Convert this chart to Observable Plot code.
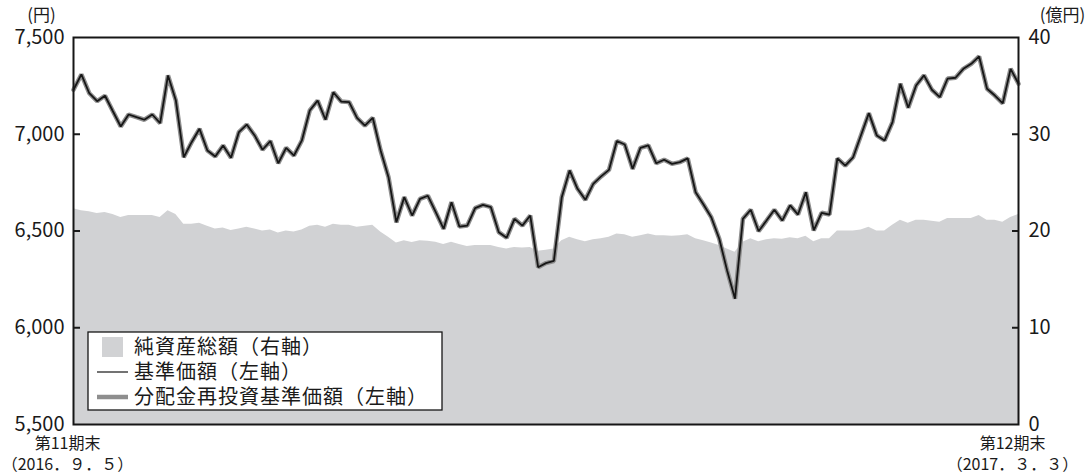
<!DOCTYPE html>
<html><head><meta charset="utf-8">
<script src="https://cdn.jsdelivr.net/npm/d3@7"></script>
<script src="https://cdn.jsdelivr.net/npm/@observablehq/plot@0.6"></script>
<style>
body{margin:0;background:#fff;}
#chart svg{font-family:"Noto Sans CJK JP",sans-serif;}
</style>
</head><body><div id="chart"></div>
<script>
// 基準価額（円）— 分配金再投資基準価額も同じ値（期中分配なし）
const nav = [
  7230, 7309, 7212, 7171, 7199, 7119, 7040, 7102, 7088, 7075,
  7102, 7057, 7304, 7174, 6881, 6959, 7028, 6916, 6885, 6942,
  6878, 7011, 7050, 6994, 6920, 6965, 6850, 6930, 6890, 6968,
  7123, 7174, 7075, 7217, 7169, 7166, 7085, 7045, 7085, 6916,
  6778, 6545, 6675, 6580, 6666, 6682, 6597, 6511, 6649, 6523,
  6528, 6618, 6635, 6623, 6494, 6465, 6563, 6528, 6580, 6313,
  6334, 6345, 6675, 6813, 6718, 6661, 6744, 6782, 6816, 6965,
  6947, 6821, 6930, 6942, 6850, 6868, 6847, 6856, 6875, 6700,
  6637, 6570, 6460, 6296, 6150, 6563, 6610, 6499, 6554, 6610,
  6554, 6632, 6585, 6700, 6503, 6594, 6585, 6875, 6838, 6881,
  6995, 7109, 6994, 6968, 7063, 7261, 7137, 7252, 7304, 7230,
  7192, 7288, 7292, 7338, 7364, 7402, 7235, 7200, 7160, 7338,
  7261
];
// 純資産総額（億円）
const netAssets = [
  22.3, 22.1, 22.0, 21.8, 21.9, 21.7, 21.4, 21.6, 21.6, 21.6,
  21.6, 21.4, 22.1, 21.7, 20.7, 20.7, 20.8, 20.5, 20.2, 20.3,
  20.05, 20.2, 20.4, 20.2, 20.0, 20.1, 19.8, 20.0, 19.9, 20.1,
  20.5, 20.6, 20.4, 20.7, 20.6, 20.6, 20.4, 20.5, 20.6, 19.9,
  19.35, 18.75, 19.0, 18.8, 19.0, 18.95, 18.85, 18.6, 18.85, 18.6,
  18.4, 18.5, 18.5, 18.5, 18.3, 18.15, 18.3, 18.25, 18.3, 17.9,
  18.0, 18.15, 19.0, 19.35, 19.1, 18.9, 19.1, 19.2, 19.35, 19.7,
  19.6, 19.35, 19.5, 19.7, 19.5, 19.5, 19.45, 19.5, 19.6, 19.2,
  19.0, 18.75, 18.5, 18.15, 17.8, 18.85, 19.2, 18.9, 19.1, 19.2,
  19.15, 19.3, 19.2, 19.45, 18.9, 19.2, 19.2, 20.0, 20.0, 20.0,
  20.1, 20.4, 20.0, 20.0, 20.6, 21.1, 20.8, 21.1, 21.1, 21.0,
  20.9, 21.3, 21.3, 21.3, 21.3, 21.6, 21.1, 21.1, 20.9, 21.4,
  21.7
];
const leftTicks = [5500, 6000, 6500, 7000, 7500];
const leftTickLabels = ["5,500", "6,000", "6,500", "7,000", "7,500"];
const rightTicks = [0, 10, 20, 30, 40];
const periodLabels = ["第11期末\n（2016．９．５）", "第12期末\n（2017．３．３）"];
const leftUnit = "(円)";
const rightUnit = "(億円)";
const legendLabels = ["純資産総額（右軸）", "基準価額（左軸）", "分配金再投資基準価額（左軸）"];

const leftMin = leftTicks[0], leftMax = leftTicks[leftTicks.length - 1];
const rightMax = rightTicks[rightTicks.length - 1];
const toLeft = v => leftMin + v * (leftMax - leftMin) / rightMax;
const lastIndex = nav.length - 1;

const data = nav.map((v, i) => ({i, nav: v, assets: netAssets[i]}));

const chart = Plot.plot({
  width: 1092, height: 475,
  marginLeft: 73, marginRight: 74, marginTop: 37, marginBottom: 51,
  style: {fontFamily: '"Noto Sans CJK JP", sans-serif', background: "#fff", color: "#1a1a1a", overflow: "visible"},
  x: {domain: [0, lastIndex]},
  y: {domain: [leftMin, leftMax]},
  marks: [
    Plot.areaY(data, {x: "i", y1: leftMin, y2: d => toLeft(d.assets), fill: "#d1d2d4"}),
    Plot.lineY(data, {x: "i", y: "nav", stroke: "#8e8e8e", strokeWidth: 4.5, strokeLinejoin: "miter"}),
    Plot.lineY(data, {x: "i", y: "nav", stroke: "#161616", strokeWidth: 1.8, strokeLinejoin: "miter"}),
    // inward ticks
    Plot.axisY({anchor: "left", ticks: leftTicks.slice(1, -1), tickSize: 7, dx: 7, text: null, strokeWidth: 2, label: null}),
    Plot.axisY({anchor: "right", ticks: rightTicks.slice(1, -1).map(toLeft), tickSize: 7, dx: -7, text: null, strokeWidth: 2, label: null}),
    // tick labels
    Plot.axisY({anchor: "left", ticks: leftTicks, tickSize: 0, tickPadding: 9, fontSize: 20,
      tickFormat: d => leftTickLabels[leftTicks.indexOf(d)], label: null}),
    Plot.axisY({anchor: "right", ticks: rightTicks.map(toLeft), tickSize: 0, tickPadding: 10, fontSize: 20,
      tickFormat: d => String(rightTicks[rightTicks.map(toLeft).indexOf(d)]), label: null}),
    Plot.axisX({ticks: [0, lastIndex], tickSize: 0, tickPadding: 10, fontSize: 16, lineHeight: 1.3, dx: -6,
      tickFormat: d => periodLabels[d === 0 ? 0 : 1], label: null}),
    Plot.text([leftUnit], {frameAnchor: "top-left", text: d => d, dx: -32, dy: -29, fontSize: 17, textAnchor: "middle"}),
    Plot.text([rightUnit], {frameAnchor: "top-right", text: d => d, dx: 44, dy: -29, fontSize: 17, textAnchor: "middle"}),
    Plot.frame({stroke: "#161616", strokeWidth: 2})
  ]
});
document.getElementById("chart").appendChild(chart);

// legend box inside the plot
const svg = d3.select(chart);
const g = svg.append("g")
  .attr("font-family", '"Noto Sans CJK JP", sans-serif')
  .attr("font-size", 20)
  .attr("fill", "#1a1a1a")
  .attr("text-anchor", "start");
g.append("rect").attr("x", 88).attr("y", 332).attr("width", 354).attr("height", 78)
  .attr("fill", "#fff").attr("stroke", "#161616").attr("stroke-width", 1.3);
const rowsY = [347, 372, 397];
g.append("rect").attr("x", 102).attr("y", rowsY[0] - 10).attr("width", 21).attr("height", 20).attr("fill", "#d1d2d4");
g.append("line").attr("x1", 97).attr("x2", 128).attr("y1", rowsY[1]).attr("y2", rowsY[1]).attr("stroke", "#161616").attr("stroke-width", 1.2);
g.append("line").attr("x1", 97).attr("x2", 128).attr("y1", rowsY[2]).attr("y2", rowsY[2]).attr("stroke", "#8e8e8e").attr("stroke-width", 4.5);
legendLabels.forEach((t, k) => {
  g.append("text").attr("x", 134).attr("y", rowsY[k]).attr("dy", "0.36em")
    .attr("text-anchor", "start").attr("letter-spacing", 1).text(t);
});
</script>
</body></html>
